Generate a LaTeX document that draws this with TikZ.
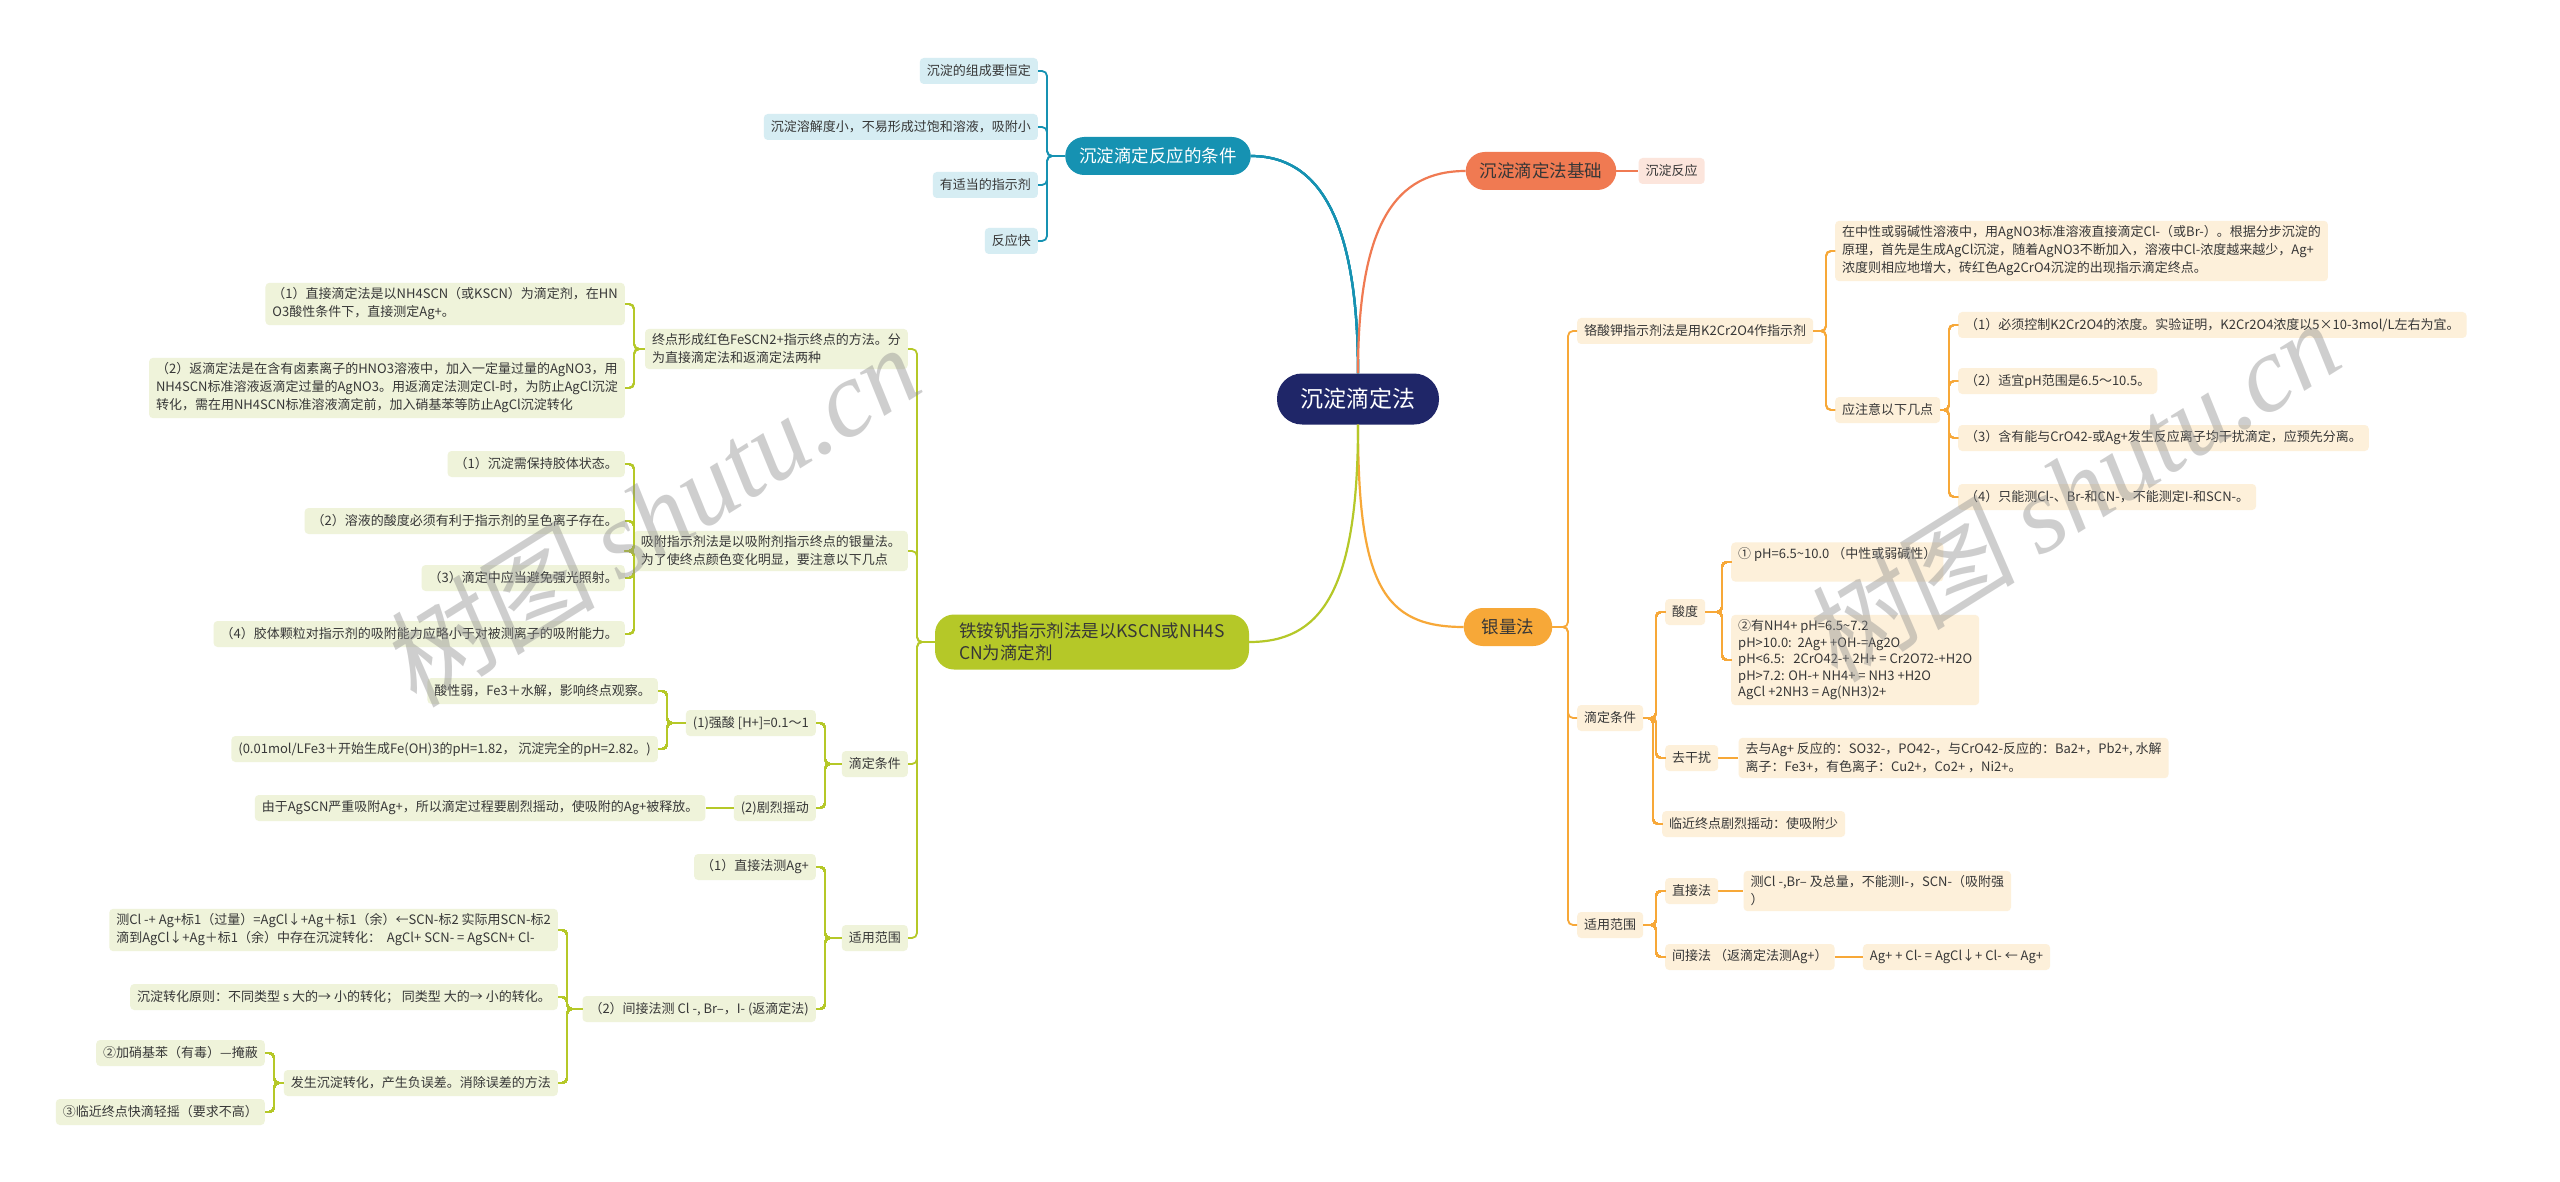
\documentclass[tikz,border=0pt]{standalone}
\usepackage{fontspec}
\setmainfont{Noto Sans CJK SC}
\newfontfamily\wmcjk[FakeSlant=0.15]{Noto Sans CJK SC}
\newfontfamily\wmlatin{Liberation Serif}
\usetikzlibrary{positioning,calc}

\definecolor{rootc}{RGB}{31,38,104}
\definecolor{tealc}{RGB}{22,146,178}
\definecolor{tealL}{RGB}{214,237,243}
\definecolor{salc}{RGB}{240,122,82}
\definecolor{salL}{RGB}{252,229,220}
\definecolor{orac}{RGB}{247,168,56}
\definecolor{oraL}{RGB}{253,240,218}
\definecolor{grnc}{RGB}{181,200,40}
\definecolor{grnL}{RGB}{239,243,218}
\definecolor{txtc}{RGB}{55,55,55}

% bracket links: parent -> child, right and left side
\newcommand{\rlink}[3]{\draw[#1] (#2.east) -- ($(#2.east -| #3.west)+(-9,0)$) |- (#3.west);}
\newcommand{\llink}[3]{\draw[#1] (#2.west) -- ($(#2.west -| #3.east)+(9,0)$) |- (#3.east);}

\tikzset{
  leaf/.style={align=left, text=txtc, font=\fontsize{13}{18}\selectfont,
    inner xsep=7pt, inner ysep=5pt, minimum height=26pt, rounded corners=4pt},
  tleaf/.style={leaf, fill=tealL},
  sleaf/.style={leaf, fill=salL},
  oleaf/.style={leaf, fill=oraL},
  gleaf/.style={leaf, fill=grnL},
  mainbox/.style={align=left, minimum height=38pt, inner xsep=14pt, rounded corners=19pt,
    font=\fontsize{17.5}{22}\selectfont},
  rootbox/.style={fill=rootc, text=white, minimum height=51pt, minimum width=162pt,
    rounded corners=25pt, font=\fontsize{23}{28}\selectfont},
  tline/.style={draw=tealc, line width=1.8pt, rounded corners=5pt},
  sline/.style={draw=salc, line width=1.8pt, rounded corners=5pt},
  oline/.style={draw=orac, line width=1.8pt, rounded corners=5pt},
  gline/.style={draw=grnc, line width=1.8pt, rounded corners=5pt},
  wmark/.style={text=black!45, opacity=0.42, font=\fontsize{108}{108}\selectfont}
}

\begin{document}
\begin{tikzpicture}[x=1pt, y=-1pt]
  \fill[white] (0,0) rectangle (2560,1182);
  \useasboundingbox (0,0) rectangle (2560,1182);

  % Root
  \node[rootbox] (root) at (1358,399) {沉淀滴定法};

  % Branch: conditions (teal)
  \node[mainbox, fill=tealc, text=white] (T0) at (1158,156) {沉淀滴定反应的条件};
  \node[tleaf, anchor=east] (T1) at (1038,71) {沉淀的组成要恒定};
  \node[tleaf, anchor=east] (T2) at (1038,127) {沉淀溶解度小，不易形成过饱和溶液，吸附小};
  \node[tleaf, anchor=east] (T3) at (1038,185) {有适当的指示剂};
  \node[tleaf, anchor=east] (T4) at (1038,241) {反应快};
  \foreach \c in {T1,T2,T3,T4} \llink{tline}{T0}{\c}
  \draw[tealc, line width=2.2pt] (root.north) .. controls +(0,-150) and +(70,0) .. (T0.east);

  % Branch: basics (salmon)
  \node[mainbox, fill=salc, text=txtc] (S0) at (1541,171) {沉淀滴定法基础};
  \node[sleaf, right=22pt of S0] (S1) {沉淀反应};
  \draw[sline] (S0) -- (S1);
  \draw[salc, line width=2.2pt] (root.north) .. controls +(0,-150) and +(-70,0) .. (S0.west);

  % Branch: argentometry (orange)
  \node[mainbox, fill=orac, text=txtc, inner xsep=18pt] (O0) at (1508,627) {银量法};
  \node[oleaf, anchor=west] (O1) at (1577,331) {铬酸钾指示剂法是用K2Cr2O4作指示剂};
  \node[oleaf, anchor=west] (O1a) at (1835,251) {在中性或弱碱性溶液中，用AgNO3标准溶液直接滴定Cl-（或Br-）。根据分步沉淀的\\原理，首先是生成AgCl沉淀，随着AgNO3不断加入，溶液中Cl-浓度越来越少，Ag+\\浓度则相应地增大，砖红色Ag2CrO4沉淀的出现指示滴定终点。};
  \node[oleaf, anchor=west] (O1b) at (1835,410) {应注意以下几点};
  \node[oleaf, anchor=west] (O1b1) at (1958,325) {（1）必须控制K2Cr2O4的浓度。实验证明，K2Cr2O4浓度以5×10-3mol/L左右为宜。};
  \node[oleaf, anchor=west] (O1b2) at (1958,381) {（2）适宜pH范围是6.5～10.5。};
  \node[oleaf, anchor=west] (O1b3) at (1958,438) {（3）含有能与CrO42-或Ag+发生反应离子均干扰滴定，应预先分离。};
  \node[oleaf, anchor=west] (O1b4) at (1958,497) {（4）只能测Cl-、Br-和CN-，不能测定I-和SCN-。};
  \node[oleaf, anchor=west] (O2) at (1577,718) {滴定条件};
  \node[oleaf, anchor=west] (O21) at (1665,612) {酸度};
  \node[oleaf, anchor=west] (O211) at (1731,562) {① pH=6.5\textasciitilde10.0 （中性或弱碱性）\\\mbox{}};
  \node[oleaf, anchor=west, font=\fontsize{13}{16.5}\selectfont] (O212) at (1731,660) {②有NH4+ pH=6.5\textasciitilde7.2\\pH>10.0:\ \ 2Ag+ +OH-=Ag2O\\pH<6.5:\ \ \ 2CrO42-+ 2H+ = Cr2O72-+H2O\\pH>7.2: OH-+ NH4+ = NH3 +H2O\\AgCl +2NH3 = Ag(NH3)2+};
  \node[oleaf, anchor=west] (O22) at (1665,758) {去干扰};
  \node[oleaf, right=20pt of O22] (O221) {去与Ag+ 反应的：SO32-，PO42-，与CrO42-反应的：Ba2+，Pb2+, 水解\\离子：Fe3+，有色离子：Cu2+，Co2+ ，Ni2+。};
  \node[oleaf, anchor=west] (O23) at (1662,824) {临近终点剧烈摇动：使吸附少};
  \node[oleaf, anchor=west] (O3) at (1577,925) {适用范围};
  \node[oleaf, anchor=west] (O31) at (1665,891) {直接法};
  \node[oleaf, right=25pt of O31] (O311) {测Cl -,Br– 及总量，不能测I-，SCN-（吸附强\\）};
  \node[oleaf, anchor=west] (O32) at (1665,957) {间接法 （返滴定法测Ag+）};
  \node[oleaf, right=28pt of O32] (O321) {Ag+ + Cl- = AgCl↓+ Cl- ← Ag+};
  \foreach \c in {O1,O2,O3} \rlink{oline}{O0}{\c}
  \foreach \c in {O1a,O1b} \rlink{oline}{O1}{\c}
  \foreach \c in {O1b1,O1b2,O1b3,O1b4} \rlink{oline}{O1b}{\c}
  \foreach \c in {O21,O22,O23} \rlink{oline}{O2}{\c}
  \foreach \c in {O211,O212} \rlink{oline}{O21}{\c}
  \foreach \c in {O31,O32} \rlink{oline}{O3}{\c}
  \draw[oline] (O22) -- (O221);
  \draw[oline] (O31) -- (O311);
  \draw[oline] (O32) -- (O321);
  \draw[orac, line width=2.2pt] (root.south) .. controls +(0,160) and +(-80,0) .. (O0.west);

  % Branch: Volhard method (green)
  \node[mainbox, fill=grnc, text=txtc, minimum width=314pt, minimum height=55pt, inner ysep=6pt] (G0) at (1092,642) {铁铵钒指示剂法是以KSCN或NH4S\\CN为滴定剂};
  \node[gleaf, anchor=east] (G1) at (908,349) {终点形成红色FeSCN2+指示终点的方法。分\\为直接滴定法和返滴定法两种};
  \node[gleaf, anchor=east] (G11) at (625,304) {（1）直接滴定法是以NH4SCN（或KSCN）为滴定剂，在HN\\O3酸性条件下，直接测定Ag+。};
  \node[gleaf, anchor=east] (G12) at (625,388) {（2）返滴定法是在含有卤素离子的HNO3溶液中，加入一定量过量的AgNO3，用\\NH4SCN标准溶液返滴定过量的AgNO3。用返滴定法测定Cl-时，为防止AgCl沉淀\\转化，需在用NH4SCN标准溶液滴定前，加入硝基苯等防止AgCl沉淀转化};
  \node[gleaf, anchor=east] (G2) at (908,551) {吸附指示剂法是以吸附剂指示终点的银量法。\\为了使终点颜色变化明显，要注意以下几点};
  \node[gleaf, anchor=east] (G21) at (625,464) {（1）沉淀需保持胶体状态。};
  \node[gleaf, anchor=east] (G22) at (625,521) {（2）溶液的酸度必须有利于指示剂的呈色离子存在。};
  \node[gleaf, anchor=east] (G23) at (625,578) {（3）滴定中应当避免强光照射。};
  \node[gleaf, anchor=east] (G24) at (625,634) {（4）胶体颗粒对指示剂的吸附能力应略小于对被测离子的吸附能力。};
  \node[gleaf, anchor=east] (G3) at (908,764) {滴定条件};
  \node[gleaf, anchor=east] (G31) at (816,723) {(1)强酸 [H+]=0.1～1};
  \node[gleaf, anchor=east] (G311) at (658,691) {酸性弱，Fe3＋水解，影响终点观察。};
  \node[gleaf, anchor=east] (G312) at (658,749) {(0.01mol/LFe3＋开始生成Fe(OH)3的pH=1.82， 沉淀完全的pH=2.82。)};
  \node[gleaf, anchor=east] (G32) at (816,808) {(2)剧烈摇动};
  \node[gleaf, left=28pt of G32] (G321) {由于AgSCN严重吸附Ag+，所以滴定过程要剧烈摇动，使吸附的Ag+被释放。};
  \node[gleaf, anchor=east] (G4) at (908,938) {适用范围};
  \node[gleaf, anchor=east] (G41) at (816,867) {（1）直接法测Ag+};
  \node[gleaf, anchor=east] (G42) at (816,1009) {（2）间接法测 Cl -, Br–，I- (返滴定法)};
  \node[gleaf, anchor=east] (G421) at (558,930) {测Cl -+ Ag+标1（过量）=AgCl↓+Ag＋标1（余）←SCN-标2 实际用SCN-标2\\滴到AgCl↓+Ag＋标1（余）中存在沉淀转化：\ \ AgCl+ SCN- = AgSCN+ Cl-};
  \node[gleaf, anchor=east] (G422) at (558,997) {沉淀转化原则：不同类型 s 大的→ 小的转化； 同类型 大的→ 小的转化。};
  \node[gleaf, anchor=east] (G423) at (558,1083) {发生沉淀转化，产生负误差。消除误差的方法};
  \node[gleaf, anchor=east] (G4231) at (265,1053) {②加硝基苯（有毒）—掩蔽};
  \node[gleaf, anchor=east] (G4232) at (265,1112) {③临近终点快滴轻摇（要求不高）};
  \foreach \c in {G1,G2,G3,G4} \llink{gline}{G0}{\c}
  \foreach \c in {G11,G12} \llink{gline}{G1}{\c}
  \foreach \c in {G21,G22,G23,G24} \llink{gline}{G2}{\c}
  \foreach \c in {G31,G32} \llink{gline}{G3}{\c}
  \foreach \c in {G311,G312} \llink{gline}{G31}{\c}
  \foreach \c in {G41,G42} \llink{gline}{G4}{\c}
  \foreach \c in {G421,G422,G423} \llink{gline}{G42}{\c}
  \foreach \c in {G4231,G4232} \llink{gline}{G423}{\c}
  \draw[gline] (G32) -- (G321);
  \draw[grnc, line width=2.2pt] (root.south) .. controls +(0,170) and +(70,0) .. (G0.east);

  % Watermarks
  \node[wmark, rotate=32] (wmL) at (650,515) {{\wmcjk 树图} {\wmlatin\itshape shutu.cn}};
  \node[wmark, rotate=32] (wmR) at (2070,490) {{\wmcjk 树图} {\wmlatin\itshape shutu.cn}};
\end{tikzpicture}
\end{document}
